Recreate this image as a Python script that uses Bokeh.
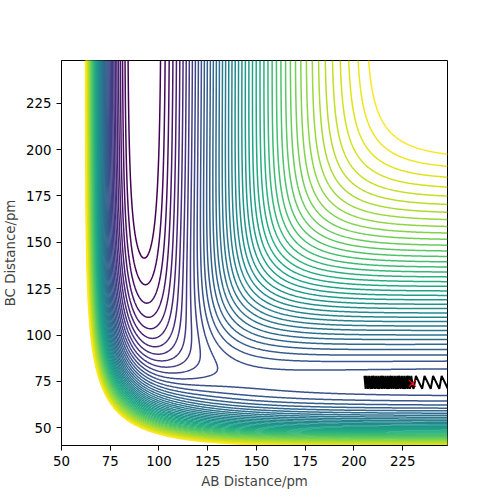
import numpy as np
from bokeh.plotting import figure
from bokeh.models import FixedTicker, Range1d
from bokeh.palettes import Viridis256, linear_palette
from bokeh.embed import file_html
from bokeh.resources import INLINE

# LEPS surface parameters (F-H-H), energies kJ/mol, distances pm
D_HF, BETA_HF, RE_HF, SATO_HF = 590.7, 0.02219, 91.7, 0.167
D_HH, BETA_HH, RE_HH, SATO_HH = 458.0, 0.0188, 74.1, 0.106

# axis ranges / ticks
x_start, x_end = 50, 248
y_start, y_end = 40.5, 248
tick_values = [50, 75, 100, 125, 150, 175, 200, 225]

# contour levels
level_min, level_max, level_step = -569, -89, 10

# trajectory (AB, BC): dense inbound part, then outbound part
traj_ab = [230.0, 229.4, 228.8, 228.2, 227.6, 227.0, 226.4, 225.8, 225.2, 224.6, 224.0, 223.4,
           222.8, 222.2, 221.6, 221.0, 220.4, 219.8, 219.2, 218.6, 218.0, 217.4, 216.8, 216.2,
           215.6, 215.0, 214.4, 213.8, 213.2, 212.6, 212.0, 211.4, 210.8, 210.2, 209.6, 209.0,
           208.4, 207.8, 207.2, 206.6, 206.0, 205.4,
           208.6, 209.8, 213.0, 214.2, 217.4, 218.6, 221.8, 223.0, 226.2, 227.4, 230.6, 231.8,
           235.0, 236.2, 239.4, 240.6, 243.8, 245.0, 248.2, 249.4, 252.6]
traj_bc = [74, 78, 71, 78, 71, 78, 71, 78, 71, 78, 71, 78,
           71, 78, 71, 78, 71, 78, 71, 78, 71, 78, 71, 78,
           71, 78, 71, 78, 71, 78, 71, 78, 71, 78, 71, 78,
           71, 78, 71, 78, 71, 78,
           71, 78, 71, 78, 71, 78, 71, 78, 71, 78, 71, 78,
           71, 78, 71, 78, 71, 78, 71, 78, 71]
start_ab, start_bc = [230], [74]


def qj(r, D, beta, re, s):
    e1 = np.exp(-beta * (r - re))
    e2 = e1 * e1
    pre = D / (4 * (1 + s))
    q = pre * ((3 + s) * e2 - (2 + 6 * s) * e1)
    j = pre * ((1 + 3 * s) * e2 - (6 + 2 * s) * e1)
    return q, j


ab = np.linspace(x_start, x_end, 400)
bc = np.linspace(y_start, y_end, 420)
R1, R2 = np.meshgrid(ab, bc)
R3 = R1 + R2
q1, j1 = qj(R1, D_HF, BETA_HF, RE_HF, SATO_HF)
q2, j2 = qj(R2, D_HH, BETA_HH, RE_HH, SATO_HH)
q3, j3 = qj(R3, D_HF, BETA_HF, RE_HF, SATO_HF)
V = q1 + q2 + q3 - np.sqrt(0.5 * ((j1 - j2) ** 2 + (j2 - j3) ** 2 + (j3 - j1) ** 2))

levels = list(np.arange(level_min, level_max + 0.1, level_step))
colors = linear_palette(Viridis256, len(levels))

p = figure(frame_width=386, frame_height=385,
           x_range=Range1d(x_start, x_end), y_range=Range1d(y_start, y_end),
           output_backend="svg", toolbar_location=None,
           min_border_left=54, min_border_top=60, min_border_right=34, min_border_bottom=40)

p.contour(x=ab, y=bc, z=V, levels=levels, line_color=colors, line_width=1.5)

p.line(traj_ab, traj_bc, line_color="black", line_width=2)
p.scatter(start_ab, start_bc, marker="x", size=10, line_color="red", line_width=1.2)

p.grid.visible = False
p.outline_line_color = "black"
p.outline_line_width = 1
p.background_fill_color = "white"
p.border_fill_color = "white"

for ax in (p.xaxis[0], p.yaxis[0]):
    ax.ticker = FixedTicker(ticks=tick_values)
    ax.minor_tick_line_color = None
    ax.major_tick_out = 5
    ax.major_tick_in = 0
    ax.major_label_text_font = "DejaVu Sans"
    ax.major_label_text_font_size = "10pt"
    ax.major_label_text_color = "black"
    ax.axis_label_text_font = "DejaVu Sans"
    ax.axis_label_text_font_size = "10pt"
    ax.axis_label_text_font_style = "normal"
    ax.axis_line_color = "black"

p.xaxis.axis_label = "AB Distance/pm"
p.yaxis.axis_label = "BC Distance/pm"

open("out.html", "w").write(file_html(p, INLINE))
